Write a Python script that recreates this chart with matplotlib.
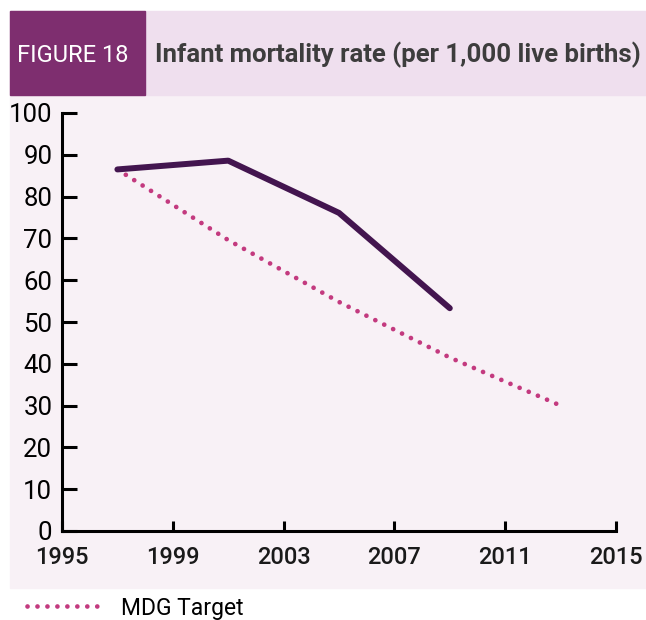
import matplotlib
matplotlib.use("Agg")
import matplotlib.pyplot as plt
from matplotlib.patches import Rectangle

plt.rcParams['font.family'] = ['Roboto', 'DejaVu Sans']

# data
years = [1997, 2001, 2005, 2009]
imr = [86.5, 88.6, 76.1, 53.3]
target_years = [1997, 2001, 2005, 2009, 2013]
target = [86.5, 69.6, 54.8, 41.5, 30.0]
xticks = [1995, 1999, 2003, 2007, 2011, 2015]
yticks = list(range(0, 101, 10))

W, H = 646, 620
fig = plt.figure(figsize=(W / 100, H / 100), dpi=100)
fig.patch.set_facecolor('white')

# background panels
fig.patches.append(Rectangle((10 / W, (H - 588) / H), 1 - 10 / W, (588 - 95) / H,
                             transform=fig.transFigure, color='#f8f1f6', zorder=-2))
fig.patches.append(Rectangle((10 / W, (H - 95) / H), 1 - 10 / W, (95 - 11) / H,
                             transform=fig.transFigure, color='#efdfee', zorder=-2))
fig.patches.append(Rectangle((10 / W, (H - 95) / H), (145 - 10) / W, (95 - 11) / H,
                             transform=fig.transFigure, color='#7e2e6f', zorder=-1))

fig.text(17 / W, (H - 55) / H, 'FIGURE 18', color='white', fontsize=17,
         va='center', ha='left')
fig.text(155 / W, (H - 55) / H, 'Infant mortality rate (per 1,000 live births)',
         color='#3d3d3d', fontsize=18.5, fontweight='bold', va='center', ha='left')

ax = fig.add_axes([62 / W, (H - 531) / H, (616 - 62) / W, (531 - 113) / H])
ax.set_zorder(2)
ax.patch.set_alpha(0)

ax.plot(years, imr, color='#43154f', lw=4.3, solid_capstyle='round',
        solid_joinstyle='round', zorder=3)
mdg, = ax.plot(target_years, target, color='#c33a7f', lw=3.4,
               linestyle=(0, (0.01, 2.1)), dash_capstyle='round', label='MDG Target')

ax.set_xlim(1995, 2015)
ax.set_ylim(0, 100)
ax.set_xticks(xticks)
ax.set_yticks(yticks)
for s in ['top', 'right']:
    ax.spines[s].set_visible(False)
for s in ['left', 'bottom']:
    ax.spines[s].set_linewidth(2.2)
ax.tick_params(axis='y', direction='in', length=11, width=2.2, pad=7,
               labelsize=18.5, colors='black')
ax.tick_params(axis='x', direction='in', length=7, width=2.2, pad=11,
               labelsize=17, colors='black')
for lab in ax.get_xticklabels():
    lab.set_fontweight('medium')
    lab.set_color('#1a1a1a')

fig.legend(handles=[mdg], loc='center left', bbox_to_anchor=(18 / W, (H - 608) / H),
           frameon=False, fontsize=16.5, handlelength=3.3, handletextpad=0.8,
           borderaxespad=0)

fig.savefig('out.png', dpi=100)
